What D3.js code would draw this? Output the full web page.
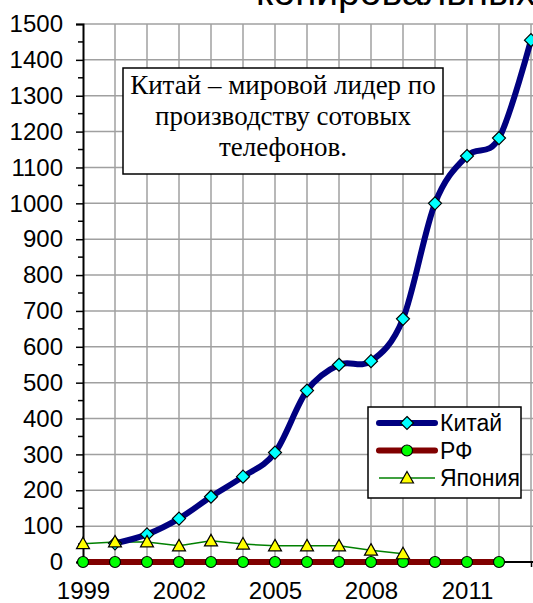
<!DOCTYPE html>
<html>
<head>
<meta charset="utf-8">
<script src="https://cdn.jsdelivr.net/npm/d3@7"></script>
<style>
  body { margin: 0; background: #fff; }
  svg { display: block; }
</style>
</head>
<body>
<svg width="533" height="603"></svg>
<script>
// years on the x axis
var years = [1999, 2000, 2001, 2002, 2003, 2004, 2005, 2006, 2007, 2008, 2009, 2010, 2011, 2012, 2013];
var xLabels = [1999, 2002, 2005, 2008, 2011];
var yTicks = [0, 100, 200, 300, 400, 500, 600, 700, 800, 900, 1000, 1100, 1200, 1300, 1400, 1500];

// series values
var chinaYears = [2000, 2001, 2002, 2003, 2004, 2005, 2006, 2007, 2008, 2009, 2010, 2011, 2012, 2013];
var china = [52, 77, 121, 182, 238, 305, 478, 550, 560, 678, 1000, 1132, 1182, 1455];
var rfYears = [1999, 2000, 2001, 2002, 2003, 2004, 2005, 2006, 2007, 2008, 2009, 2010, 2011, 2012];
var rf = [0, 0, 0, 0, 0, 0, 0, 0, 0, 0, 0, 0, 0, 0];
var japanYears = [1999, 2000, 2001, 2002, 2003, 2004, 2005, 2006, 2007, 2008, 2009];
var japan = [51, 56, 56, 45, 59, 50, 45, 45, 45, 33, 23];

var seriesNames = ['Китай', 'РФ', 'Япония'];
var noteLines = ['Китай – мировой лидер по', 'производству сотовых', 'телефонов.'];

var svg = d3.select('svg');

var x = d3.scaleLinear().domain([1999, 2013]).range([83, 531]);
var y = d3.scaleLinear().domain([0, 1500]).range([562, 24]);

// cut-off title at the very top
svg.append('text')
  .attr('x', 256).attr('y', 5)
  .attr('font-family', 'Liberation Sans, Arial, sans-serif')
  .attr('font-size', 39)
  .text('копировальных');

// grid
svg.append('g').selectAll('line.v').data(years.slice(1)).enter().append('line')
  .attr('x1', function(d) { return x(d); }).attr('x2', function(d) { return x(d); })
  .attr('y1', y(1500)).attr('y2', y(0))
  .attr('stroke', '#a0a0a0').attr('stroke-width', 1.5);
svg.append('g').selectAll('line.h').data(yTicks.slice(1)).enter().append('line')
  .attr('x1', x(1999)).attr('x2', 533)
  .attr('y1', function(d) { return y(d); }).attr('y2', function(d) { return y(d); })
  .attr('stroke', '#a0a0a0').attr('stroke-width', 1.5);

// y axis
var yAxis = d3.axisLeft(y).tickValues(yTicks).tickSize(7).tickPadding(13).tickFormat(d3.format('d'));
var gy = svg.append('g').attr('transform', 'translate(' + x(1999) + ',0)').call(yAxis);
gy.select('.domain').attr('stroke', '#000').attr('stroke-width', 2);
gy.selectAll('.tick line').attr('stroke', '#000').attr('stroke-width', 1.5);
gy.selectAll('text').attr('font-family', 'Liberation Sans, Arial, sans-serif').attr('font-size', 24).attr('fill', '#000');

// minor y ticks
svg.append('g').selectAll('line').data(yTicks.slice(1)).enter().append('line')
  .attr('x1', x(1999) - 5).attr('x2', x(1999))
  .attr('y1', function(d) { return y(d - 50); }).attr('y2', function(d) { return y(d - 50); })
  .attr('stroke', '#000').attr('stroke-width', 1.5);

// x axis
var xAxis = d3.axisBottom(x).tickValues(years).tickSize(5).tickPadding(15)
  .tickFormat(function(d) { return xLabels.indexOf(d) >= 0 ? d : ''; });
var gx = svg.append('g').attr('transform', 'translate(0,' + y(0) + ')').call(xAxis);
gx.select('.domain').remove();
gx.append('line').attr('x1', x(1999)).attr('x2', 533).attr('stroke', '#000').attr('stroke-width', 2);
gx.selectAll('.tick line').attr('stroke', '#000').attr('stroke-width', 1.5);
gx.selectAll('text').attr('font-family', 'Liberation Sans, Arial, sans-serif').attr('font-size', 24).attr('fill', '#000');

// lines
var chinaData = chinaYears.map(function(d, i) { return [d, china[i]]; });
var rfData = rfYears.map(function(d, i) { return [d, rf[i]]; });
var japanData = japanYears.map(function(d, i) { return [d, japan[i]]; });

var smooth = d3.line().x(function(d) { return x(d[0]); }).y(function(d) { return y(d[1]); }).curve(d3.curveCardinal);
var straight = d3.line().x(function(d) { return x(d[0]); }).y(function(d) { return y(d[1]); });

var diamond = 'M0,-6.5L6.5,0L0,6.5L-6.5,0Z';
var tri = 'M0,-6.5L6.5,5L-6.5,5Z';

svg.append('path').datum(japanData).attr('d', straight)
  .attr('fill', 'none').attr('stroke', '#008000').attr('stroke-width', 1.5);
svg.append('path').datum(rfData).attr('d', straight)
  .attr('fill', 'none').attr('stroke', '#800000').attr('stroke-width', 6);
svg.append('path').datum(chinaData).attr('d', smooth)
  .attr('fill', 'none').attr('stroke', '#000080').attr('stroke-width', 6).attr('stroke-linejoin', 'round');

svg.append('g').selectAll('circle').data(rfData).enter().append('circle')
  .attr('cx', function(d) { return x(d[0]); }).attr('cy', function(d) { return y(d[1]); })
  .attr('r', 5.5).attr('fill', '#00ff00').attr('stroke', '#000').attr('stroke-width', 1.2);
svg.append('g').selectAll('path').data(chinaData).enter().append('path')
  .attr('transform', function(d) { return 'translate(' + x(d[0]) + ',' + y(d[1]) + ')'; })
  .attr('d', diamond).attr('fill', '#00ffff').attr('stroke', '#000').attr('stroke-width', 1.2);
svg.append('g').selectAll('path').data(japanData).enter().append('path')
  .attr('transform', function(d) { return 'translate(' + x(d[0]) + ',' + y(d[1]) + ')'; })
  .attr('d', tri).attr('fill', '#ffff00').attr('stroke', '#000').attr('stroke-width', 1.2);

// note box
svg.append('rect').attr('x', 123).attr('y', 68).attr('width', 320).attr('height', 106)
  .attr('fill', '#fff').attr('stroke', '#000').attr('stroke-width', 1.5);
svg.append('g').selectAll('text').data(noteLines).enter().append('text')
  .attr('x', 283).attr('y', function(d, i) { return 94 + i * 31; })
  .attr('text-anchor', 'middle')
  .attr('font-family', 'Liberation Serif, Times New Roman, serif').attr('font-size', 27)
  .text(function(d) { return d; });

// legend
var legend = svg.append('g');
legend.append('rect').attr('x', 368).attr('y', 407).attr('width', 153).attr('height', 91)
  .attr('fill', '#fff').attr('stroke', '#000').attr('stroke-width', 1.5);
var lineColors = ['#000080', '#800000', '#008000'];
var lineWidths = [6, 6, 1.5];
var rows = legend.selectAll('g').data(seriesNames).enter().append('g')
  .attr('transform', function(d, i) { return 'translate(0,' + (423 + i * 27.5) + ')'; });
rows.append('line').attr('x1', 379).attr('x2', 435)
  .attr('stroke', function(d, i) { return lineColors[i]; })
  .attr('stroke-width', function(d, i) { return lineWidths[i]; })
  .attr('stroke-linecap', function(d, i) { return i < 2 ? 'round' : 'butt'; });
rows.each(function(d, i) {
  var g = d3.select(this);
  if (i === 0) g.append('path').attr('transform', 'translate(407,0)').attr('d', diamond)
    .attr('fill', '#00ffff').attr('stroke', '#000').attr('stroke-width', 1.2);
  if (i === 1) g.append('circle').attr('cx', 407).attr('r', 5.5)
    .attr('fill', '#00ff00').attr('stroke', '#000').attr('stroke-width', 1.2);
  if (i === 2) g.append('path').attr('transform', 'translate(407,0)').attr('d', tri)
    .attr('fill', '#ffff00').attr('stroke', '#000').attr('stroke-width', 1.2);
});
rows.append('text').attr('x', 440).attr('y', 8)
  .attr('font-family', 'Liberation Sans, Arial, sans-serif').attr('font-size', 23)
  .text(function(d) { return d; });
</script>
</body>
</html>
